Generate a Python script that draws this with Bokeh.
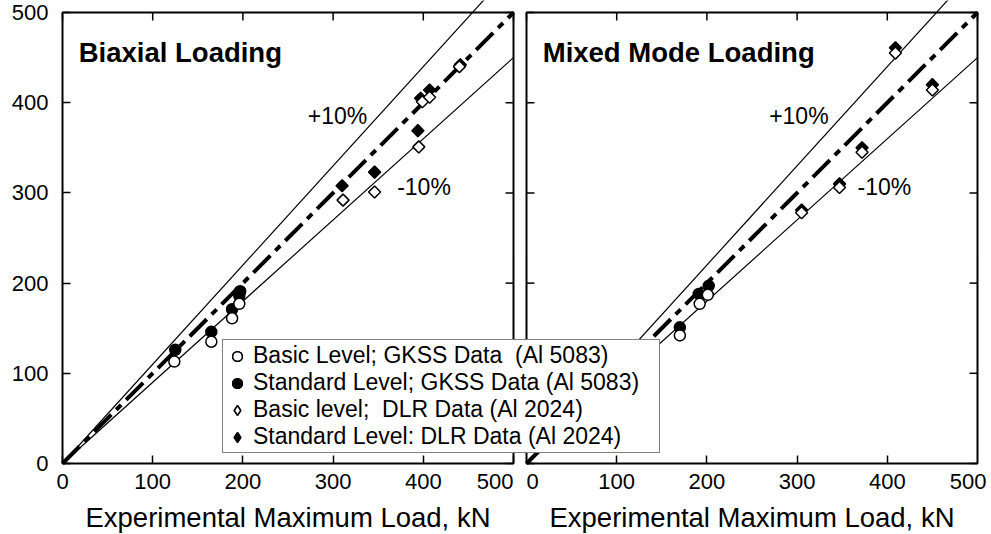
import numpy as np
from bokeh.plotting import figure
from bokeh.models import (Range1d, LinearAxis, FixedTicker, BoxAnnotation, Label,
                          Legend, LegendItem)
from bokeh.embed import file_html
from bokeh.resources import INLINE

# ---------------- data ----------------
tick_values = [0, 100, 200, 300, 400, 500]
panel_titles = ["Biaxial Loading", "Mixed Mode Loading"]
axis_title = "Experimental Maximum Load, kN"
series_labels = ["Basic Level; GKSS Data  (Al 5083)",
                 "Standard Level; GKSS Data (Al 5083)",
                 "Basic level;  DLR Data (Al 2024)",
                 "Standard Level: DLR Data (Al 2024)"]
band_labels = ["+10%", "-10%"]
ref_x = [0, 500]
ref_ratio = [1.0, 1.1, 0.9]

# Biaxial loading
bi_basic_gkss_x = [124, 165, 188, 196]
bi_basic_gkss_y = [113, 135, 161, 177]
bi_std_gkss_x = [125, 165, 188, 196, 197]
bi_std_gkss_y = [126, 146, 171, 186, 191]
bi_basic_dlr_x = [311, 346, 395, 399, 407, 440]
bi_basic_dlr_y = [292, 301, 351, 401, 406, 440]
bi_std_dlr_x = [310, 346, 394, 397, 407, 441]
bi_std_dlr_y = [308, 323, 369, 405, 414, 442]

# Mixed mode loading
mm_basic_gkss_x = [170, 192, 201]
mm_basic_gkss_y = [142, 177, 187]
mm_std_gkss_x = [170, 191, 202]
mm_std_gkss_y = [151, 188, 197]
mm_basic_dlr_x = [305, 347, 372, 409, 450]
mm_basic_dlr_y = [278, 306, 345, 455, 414]
mm_std_dlr_x = [305, 347, 372, 409, 450]
mm_std_dlr_y = [281, 310, 350, 461, 420]

# ---------------- layout constants ----------------
FONT = "Liberation Sans"
W, H = 991, 534
SPAN = 500
S = 451 / 500            # pixels per data unit
ORIGIN_L = 62            # px from left of left-panel origin
ORIGIN_R = 526           # px from left of right-panel origin
ORIGIN_B = 71            # px from bottom of both origins
TICK_STANDOFF = 10

p = figure(width=W, height=H,
           x_range=Range1d(-ORIGIN_L / S, (W - ORIGIN_L) / S),
           y_range=Range1d(-ORIGIN_B / S, (H - ORIGIN_B) / S),
           x_axis_location=None, y_axis_location=None,
           output_backend="svg", toolbar_location=None,
           min_border=0, background_fill_color="white", border_fill_color="white")
p.extra_x_ranges = {"mixed": Range1d(-ORIGIN_R / S, (W - ORIGIN_R) / S)}
p.outline_line_color = None
p.grid.visible = False


def base_axis(ax, tick_len=8):
    ax.axis_line_color = None
    ax.major_tick_in = tick_len
    ax.major_tick_out = 0
    ax.minor_tick_in = 0
    ax.minor_tick_out = 0
    ax.major_tick_line_width = 1.5
    ax.major_tick_line_color = "black"
    ax.major_label_text_font = FONT
    ax.major_label_text_font_size = "22px"
    ax.major_label_text_color = "black"


def x_axis(rng, ticks, label):
    ax = LinearAxis(x_range_name=rng, ticker=FixedTicker(ticks=ticks),
                    fixed_location=0, bounds=(0, SPAN))
    base_axis(ax)
    ax.major_label_standoff = TICK_STANDOFF
    ax.axis_label = label
    ax.axis_label_text_font = FONT
    ax.axis_label_text_font_size = "27.5px"
    ax.axis_label_text_font_style = "normal"
    ax.axis_label_text_color = "black"
    ax.axis_label_standoff = 10
    p.add_layout(ax, "below")


# interior tick labels on the axes; the labels at the panel edges are nudged inwards
x_axis("default", tick_values[:-1], axis_title)
x_axis("mixed", tick_values[1:-1], axis_title)
edge_labels = [("default", tick_values[-1], "right", 0),
               ("mixed", tick_values[0], "left", 0),
               ("mixed", tick_values[-1], "right", 9)]
for rng, t, align, dx in edge_labels:
    p.add_layout(Label(x=t, y=0, x_range_name=rng, text=str(t), text_align=align,
                       text_baseline="top", y_offset=-TICK_STANDOFF, x_offset=dx,
                       text_font=FONT, text_font_size="22px", text_color="black"))

ya = LinearAxis(ticker=FixedTicker(ticks=tick_values), fixed_location=0, bounds=(0, SPAN))
base_axis(ya)
ya.major_label_standoff = 14
p.add_layout(ya, "left")

n = len(tick_values)
tick_kw = dict(length=8, length_units="screen", line_color="black", line_width=1.5)
for rng in ("default", "mixed"):
    p.ray(x=tick_values, y=[SPAN] * n, angle=-np.pi / 2, x_range_name=rng, **tick_kw)
p.ray(x=tick_values[-1:], y=[0], angle=np.pi / 2, **tick_kw)
p.ray(x=[SPAN] * n, y=tick_values, angle=np.pi, **tick_kw)
p.ray(x=[0] * n, y=tick_values, angle=0, x_range_name="mixed", **tick_kw)
p.ray(x=[SPAN] * n, y=tick_values, angle=np.pi, x_range_name="mixed", **tick_kw)


def diamonds(x, y, fill, kw):
    # a diamond glyph (gives the legend symbol) covered by a square turned 45 degrees
    r = p.scatter(x, y, marker="diamond", size=10, fill_color=fill,
                  line_color="black", line_width=1.5, **kw)
    p.scatter(x, y, marker="square", angle=np.pi / 4, size=8.5, fill_color=fill,
              line_color="black", line_width=1.5, **kw)
    return r


def draw_panel(rng, d, tx, label_pos):
    kw = {"x_range_name": rng}
    xs = np.array(ref_x, dtype=float)
    p.line(xs, xs * ref_ratio[1], line_color="black", line_width=1.2, **kw)
    p.line(xs, xs * ref_ratio[2], line_color="black", line_width=1.2, **kw)
    p.line(xs, xs * ref_ratio[0], line_color="black", line_width=4,
           line_dash="24 7 7 7", **kw)
    r_sg = p.scatter(d[2], d[3], marker="circle", size=11, fill_color="black",
                     line_color="black", line_width=1.5, **kw)
    r_bg = p.scatter(d[0], d[1], marker="circle", size=11, fill_color="white",
                     line_color="black", line_width=1.5, **kw)
    r_sd = diamonds(d[6], d[7], "black", kw)
    r_bd = diamonds(d[4], d[5], "white", kw)
    tkw = dict(text_font=FONT, text_color="black", text_baseline="alphabetic", **kw)
    p.add_layout(Label(x=18, y=455.5, text=tx, text_font_size="27.5px",
                       text_font_style="bold", **tkw))
    p.add_layout(Label(x=label_pos[0], y=385.4, text=band_labels[0],
                       text_font_size="23px", **tkw))
    p.add_layout(Label(x=label_pos[1], y=306, text=band_labels[1],
                       text_font_size="23px", **tkw))
    p.add_layout(BoxAnnotation(left=0, right=SPAN, bottom=0, top=SPAN, fill_alpha=0,
                               line_color="black", line_width=2, line_alpha=1, **kw))
    return [r_bg, r_sg, r_bd, r_sd]


bi = draw_panel("default",
                [bi_basic_gkss_x, bi_basic_gkss_y, bi_std_gkss_x, bi_std_gkss_y,
                 bi_basic_dlr_x, bi_basic_dlr_y, bi_std_dlr_x, bi_std_dlr_y],
                panel_titles[0], (272, 371))
mm = draw_panel("mixed",
                [mm_basic_gkss_x, mm_basic_gkss_y, mm_std_gkss_x, mm_std_gkss_y,
                 mm_basic_dlr_x, mm_basic_dlr_y, mm_std_dlr_x, mm_std_dlr_y],
                panel_titles[1], (269, 367))

legend = Legend(items=[LegendItem(label=series_labels[i], renderers=[bi[i], mm[i]])
                       for i in range(4)],
                location=(222, H - 453), label_text_font=FONT, label_text_font_size="23px",
                label_text_color="black",
                glyph_width=24, glyph_height=24, padding=2, label_standoff=4, spacing=0,
                label_width=404, label_height=20,
                border_line_color="black", border_line_width=1.5,
                background_fill_color="white", background_fill_alpha=1, margin=0)
p.add_layout(legend, "center")

open("out.html", "w").write(file_html(p, INLINE))
